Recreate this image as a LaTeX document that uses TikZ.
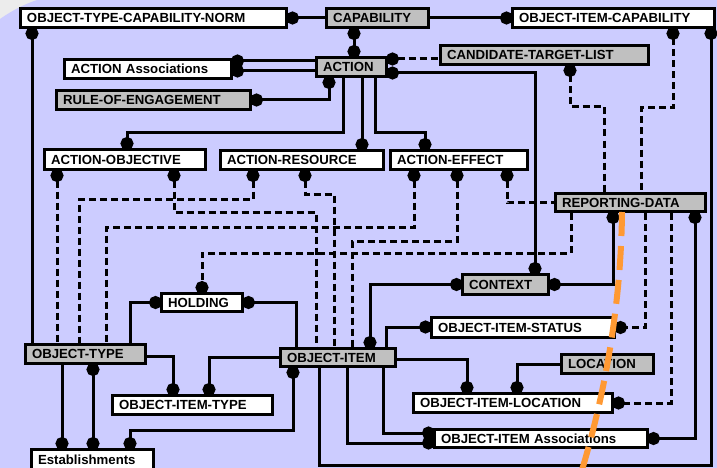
\documentclass[tikz,border=0pt]{standalone}
\usepackage{fontspec}
\setmainfont{Liberation Sans}
\usetikzlibrary{arrows.meta}
\pgfdeclarelayer{bg}
\pgfdeclarelayer{lines}
\pgfsetlayers{bg,lines,main}
\definecolor{lav}{RGB}{204,204,255}
\definecolor{boxgray}{RGB}{192,192,192}
\definecolor{cornergray}{RGB}{236,236,236}
\definecolor{orng}{RGB}{255,153,51}
\newcommand\bx[7]{%
 \pgfmathsetmacro\bxw{#5-#3-3}%
 \pgfmathsetmacro\bxh{#6-#4-3}%
 \pgfmathsetmacro\bxt{#5-#3-3-13}%
 \pgfmathsetmacro\bxcx{(#3+#5)/2}%
 \pgfmathsetmacro\bxcy{(#4+#6)/2}%
 \node[#1, minimum width=\bxw pt, minimum height=\bxh pt, text width=\bxt pt] (#2) at (\bxcx,\bxcy) {#7};}
\begin{document}
\begin{tikzpicture}[x=1pt,y=-1pt,
  basebox/.style={draw=black, line width=3pt, inner xsep=6.5pt, inner ysep=0pt, align=left,
    font=\fontsize{13.2}{15}\selectfont\bfseries},
  wbox/.style={basebox, fill=white},
  gbox/.style={basebox, fill=boxgray},
  ln/.style={line width=3pt, line join=miter},
  dsh/.style={ln, dash pattern=on 7pt off 4pt},
  dS/.style={{Circle[length=13pt,width=13pt]}-, shorten <=-2pt},
  dE/.style={-{Circle[length=13pt,width=13pt]}, shorten >=-2pt},
  dB/.style={{Circle[length=13pt,width=13pt]}-{Circle[length=13pt,width=13pt]}, shorten <=-2pt, shorten >=-2pt},
  orangeline/.style={draw=orng, line width=6pt, dash pattern=on 24pt off 10pt}]
\useasboundingbox (0,0) rectangle (717,468);
\begin{pgfonlayer}{bg}
  \fill[cornergray] (0,0) rectangle (717,468);
  \fill[lav] (0,19) .. controls (10,12) and (22,5) .. (37,0) -- (707,0)
    arc[start angle=90, end angle=0, radius=10] -- (717,468) -- (0,468) -- cycle;
\end{pgfonlayer}

% boxes
\bx{wbox}{norm}{19}{7}{288}{29}{OBJECT-TYPE-CAPABILITY-NORM}
\bx{gbox}{cap}{325}{7}{430}{29}{CAPABILITY}
\bx{wbox}{oic}{511}{7}{716}{29}{OBJECT-ITEM-CAPABILITY}
\bx{gbox}{ctl}{439}{44}{650}{66}{CANDIDATE-TARGET-LIST}
\bx{gbox}{action}{315}{56}{388}{78}{ACTION}
\bx{wbox}{assoc}{63}{58}{233}{80}{ACTION Associations}
\bx{gbox}{roe}{55}{89}{252}{111}{RULE-OF-ENGAGEMENT}
\bx{wbox}{aobj}{43}{148}{207}{171}{ACTION-OBJECTIVE}
\bx{wbox}{ares}{219}{149}{385}{171}{ACTION-RESOURCE}
\bx{wbox}{aeff}{389}{149}{529}{171}{ACTION-EFFECT}
\bx{gbox}{rd}{554}{192}{707}{213}{REPORTING-DATA}
\bx{gbox}{ctx}{461}{273}{550}{296}{CONTEXT}
\bx{wbox}{hold}{160}{292}{244}{313}{HOLDING}
\bx{gbox}{otype}{24}{343}{147}{365}{OBJECT-TYPE}
\bx{gbox}{oitem}{279}{347}{397}{368}{OBJECT-ITEM}
\bx{wbox}{oitype}{111}{394}{274}{416}{OBJECT-ITEM-TYPE}
\bx{wbox}{estab}{30}{448}{155}{471}{Establishments}
\bx{wbox}{ois}{430}{316}{616}{339}{OBJECT-ITEM-STATUS}
\bx{gbox}{loc}{560}{353}{655}{375}{LOCATION}
\bx{wbox}{oil}{412}{392}{614}{414}{OBJECT-ITEM-LOCATION}
\bx{wbox}{oia}{433}{428}{649}{449}{OBJECT-ITEM Associations}

\begin{pgfonlayer}{lines}
% solid connectors
\draw[ln,dS] (norm.east) -- (cap.west);
\draw[ln,dE] (cap.east) -- (oic.west);
\draw[ln,dS] (norm.south -| 32,0) -- (otype.north -| 32,0);
\draw[ln,dB] (cap.south -| 354,0) -- (action.north -| 354,0);
\draw[ln,dS] (assoc.east |- 0,61) -- (action.west |- 0,61);
\draw[ln,dS] (assoc.east |- 0,71) -- (action.west |- 0,71);
\draw[ln,dB] (action.south -| 329,0) |- (roe.east);
\draw[ln,dE] (action.south -| 343,0) -- (343,133) -| (aobj.north -| 127,0);
\draw[ln,dE] (action.south -| 362,0) -- (ares.north -| 362,0);
\draw[ln,dE] (action.south -| 375,0) -- (375,133) -| (aeff.north -| 425,0);
\draw[ln,dB] (action.east |- 0,73) -| (ctx.north -| 535,0);
\draw[ln,dS] (oic.south -| 711,0) -- (711,465) -| (oitem.south -| 319,0);
\draw[ln,dB] (oia.east) -| (rd.south -| 695,0);
\draw[ln,dE] (oitem.south -| 383,0) |- (oia.west |- 0,433);
\draw[ln,dE] (oitem.south -| 347,0) |- (oia.west |- 0,443);
\draw[ln,dB] (rd.south -| 613,0) |- (ctx.east);
\draw[ln,dB] (oitem.north -| 370,0) |- (ctx.west);
\draw[ln,dE] (oitem.north -| 386,0) |- (ois.west |- 0,327);
\draw[ln,dS] (hold.east) -| (oitem.north -| 296,0);
\draw[ln,dE] (oitem.east |- 0,359) -| (oil.north -| 467,0);
\draw[ln,dE] (loc.west) -| (oil.north -| 517,0);
\draw[ln,dS] (hold.west) -| (otype.north -| 130,0);
\draw[ln,dE] (otype.east |- 0,356) -| (oitype.north -| 173,0);
\draw[ln,dE] (oitem.west |- 0,357) -| (oitype.north -| 209,0);
\draw[ln,dE] (otype.south -| 62,0) -- (estab.north -| 62,0);
\draw[ln,dB] (otype.south -| 93,0) -- (estab.north -| 93,0);
\draw[ln,dB] (oitem.south -| 293,0) -- (293,430) -| (estab.north -| 130,0);
% dashed connectors
\draw[dsh,dS] (action.east |- 0,59) -- (ctl.west |- 0,59);
\draw[dsh,dS] (ctl.south -| 570,0) -- (570,107) -| (rd.north -| 604,0);
\draw[dsh,dS] (oic.south -| 673,0) -- (673,108) -| (rd.north -| 641,0);
\draw[dsh,dS] (aobj.south -| 57,0) -- (otype.north -| 57,0);
\draw[dsh,dS] (aobj.south -| 174,0) -- (174,212) -| (oitem.north -| 316,0);
\draw[dsh,dS] (ares.south -| 253,0) -- (253,199) -| (otype.north -| 79,0);
\draw[dsh,dS] (ares.south -| 305,0) -- (305,194) -| (oitem.north -| 334,0);
\draw[dsh,dS] (aeff.south -| 414,0) -- (414,227) -| (otype.north -| 106,0);
\draw[dsh,dS] (aeff.south -| 457,0) -- (457,241) -| (oitem.north -| 352,0);
\draw[dsh,dS] (aeff.south -| 507,0) |- (rd.west);
\draw[dsh,dE] (rd.south -| 571,0) -- (571,253) -| (hold.north -| 202,0);
\draw[dsh,dE] (rd.south -| 645,0) |- (ois.east);
\draw[dsh,dE] (rd.south -| 671,0) |- (oil.east);
\end{pgfonlayer}

% orange overlay stroke
\draw[orangeline] (622,212) .. controls (621,310) and (603,400) .. (582,470);
\end{tikzpicture}
\end{document}
